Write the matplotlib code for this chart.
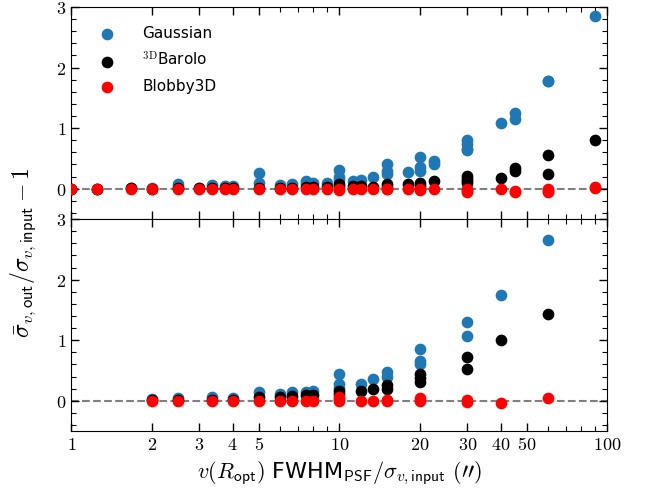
import matplotlib
matplotlib.use('Agg')
import matplotlib.pyplot as plt
from matplotlib.ticker import MultipleLocator, FixedLocator, NullFormatter

plt.rcParams['mathtext.fontset'] = 'cm'
plt.rcParams['font.family'] = 'DejaVu Sans'

# ---------------------------------------------------------
# Data (x, y pairs per series)
# ---------------------------------------------------------

# top panel
top_gauss_x = [1, 1.25, 1.667, 2, 2.5, 2.5, 3, 3.333, 3.75, 4, 5, 5, 6, 6.667, 7.5, 7.5, 8, 9,
               10, 10, 10, 11.25, 12, 13.33, 15, 15, 15, 18, 20, 20, 20, 22.5, 22.5,
               30, 30, 30, 30, 40, 45, 45, 60, 60, 90]
top_gauss_y = [0.0, 0.0, 0.02, 0.01, 0.08, 0.03, 0.02, 0.06, 0.05, 0.05, 0.26, 0.09, 0.06, 0.07, 0.12, 0.08, 0.09, 0.09,
               0.31, 0.20, 0.15, 0.13, 0.15, 0.19, 0.41, 0.30, 0.25, 0.28, 0.52, 0.36, 0.30, 0.45, 0.41,
               0.81, 0.73, 0.66, 0.64, 1.09, 1.25, 1.15, 1.77, 1.78, 2.85]

top_barolo_x = [1, 1.25, 1.667, 2, 2.5, 3, 3.333, 3.75, 4, 5, 6, 6.667, 7.5, 8, 9,
                10, 10, 11.25, 12, 13.33, 15, 15, 18, 20, 20, 22.5,
                30, 30, 30, 30, 40, 45, 45, 60, 60, 90]
top_barolo_y = [0.0, 0.0, 0.01, 0.0, 0.01, 0.01, 0.01, 0.01, 0.01, 0.02, 0.02, 0.02, 0.03, 0.03, 0.03,
                0.08, 0.04, 0.05, 0.04, 0.03, 0.07, 0.03, 0.07, 0.10, 0.05, 0.12,
                0.21, 0.16, 0.12, 0.10, 0.17, 0.34, 0.30, 0.55, 0.24, 0.80]

top_blobby_x = [1, 1.25, 1.667, 2, 2.5, 3, 3.333, 3.75, 4, 5, 6, 6.667, 7.5, 8, 9,
                10, 10, 11.25, 12, 13.33, 15, 15, 18, 20, 20, 22.5,
                30, 30, 30, 40, 45, 45, 60, 60, 60, 90, 90]
top_blobby_y = [0.0, 0.0, 0.0, 0.0, 0.0, 0.0, 0.0, 0.0, 0.0, 0.0, 0.0, 0.0, 0.0, 0.0, 0.0,
                0.0, -0.02, 0.0, 0.0, 0.0, 0.0, -0.01, 0.0, 0.0, -0.02, 0.0,
                0.0, -0.03, -0.05, 0.0, -0.03, -0.05, 0.0, -0.03, -0.06, 0.03, 0.01]

# bottom panel
bot_gauss_x = [2, 2.5, 3.333, 4, 5, 6, 6.667, 7.5, 8, 10, 10, 10, 12, 13.33, 15, 15,
               20, 20, 20, 30, 30, 40, 60]
bot_gauss_y = [0.03, 0.04, 0.07, 0.05, 0.14, 0.11, 0.14, 0.15, 0.16, 0.45, 0.28, 0.22, 0.28, 0.36, 0.48, 0.40,
               0.85, 0.66, 0.60, 1.30, 1.07, 1.75, 2.65]

bot_barolo_x = [2, 2.5, 3.333, 4, 5, 6, 6.667, 7.5, 8, 10, 10, 12, 13.33, 15, 15,
                20, 20, 20, 30, 30, 40, 60]
bot_barolo_y = [0.01, 0.01, 0.02, 0.02, 0.06, 0.06, 0.08, 0.09, 0.09, 0.17, 0.12, 0.16, 0.19, 0.26, 0.20,
                0.45, 0.37, 0.31, 0.72, 0.53, 1.00, 1.44]

bot_blobby_x = [2, 2.5, 3.333, 4, 5, 6, 6.667, 7.5, 8, 10, 10, 10, 12, 13.33, 15, 15,
                20, 20, 30, 30, 40, 60]
bot_blobby_y = [0.0, 0.0, 0.0, 0.0, 0.0, 0.0, 0.0, 0.0, 0.0, 0.07, 0.03, 0.0, 0.0, 0.0, 0.0, 0.01,
                0.05, 0.0, 0.02, -0.02, -0.03, 0.05]

xtick_vals = [1, 2, 3, 4, 5, 10, 20, 30, 40, 50, 100]
xtick_labels = ['$1$', '$2$', '$3$', '$4$', '$5$', '$10$', '$20$', '$30$', '$40$', '$50$', '$100$']

# ---------------------------------------------------------
# Plotting
# ---------------------------------------------------------
fig, (ax1, ax2) = plt.subplots(2, 1, figsize=(6.49, 4.95), dpi=100, sharex=True)
fig.subplots_adjust(left=0.11, right=0.936, top=0.986, bottom=0.129, hspace=0)

panels = [
    (ax1, top_gauss_x, top_gauss_y, top_barolo_x, top_barolo_y, top_blobby_x, top_blobby_y),
    (ax2, bot_gauss_x, bot_gauss_y, bot_barolo_x, bot_barolo_y, bot_blobby_x, bot_blobby_y),
]

for ax, gx, gy, bx, by, rx, ry in panels:
    ax.axhline(0, color='gray', ls='--', lw=1.5, zorder=1)
    ax.scatter(gx, gy, s=55, color='#1f77b4', label='Gaussian', zorder=2)
    ax.scatter(bx, by, s=55, color='black', label=r'$^{\rm 3D}$Barolo', zorder=3)
    ax.scatter(rx, ry, s=55, color='red', label='Blobby3D', zorder=4)
    ax.set_xscale('log')
    ax.set_xlim(1, 100)
    ax.set_ylim(-0.5, 3)
    ax.yaxis.set_major_locator(FixedLocator([0, 1, 2, 3]))
    ax.yaxis.set_minor_locator(MultipleLocator(0.2))
    ax.set_yticklabels(['$0$', '$1$', '$2$', '$3$'])
    ax.tick_params(which='both', direction='in', top=True, right=True, labelsize=13)
    ax.tick_params(which='major', length=6, width=1)
    ax.tick_params(which='minor', length=3.5, width=0.8)

ax2.set_xticks(xtick_vals)
ax2.set_xticklabels(xtick_labels)
ax2.xaxis.set_minor_formatter(NullFormatter())

ax1.legend(loc='upper left', bbox_to_anchor=(0.030, 0.976), frameon=False, fontsize=11,
           handlelength=0.8, handletextpad=1.9, borderpad=0.9, borderaxespad=0,
           labelspacing=0.65)

ax2.set_xlabel(r'$v(R_{\mathsf{opt}})$ FWHM$_{\mathsf{PSF}}/\sigma_{v,\mathsf{input}}$ $(\prime\prime)$', fontsize=16)
fig.text(0.035, 0.49, r'$\bar{\sigma}_{v,\mathsf{out}}/\sigma_{v,\mathsf{input}} - 1$',
         rotation=90, va='center', ha='center', fontsize=17)

plt.savefig('out.png', dpi=100)
